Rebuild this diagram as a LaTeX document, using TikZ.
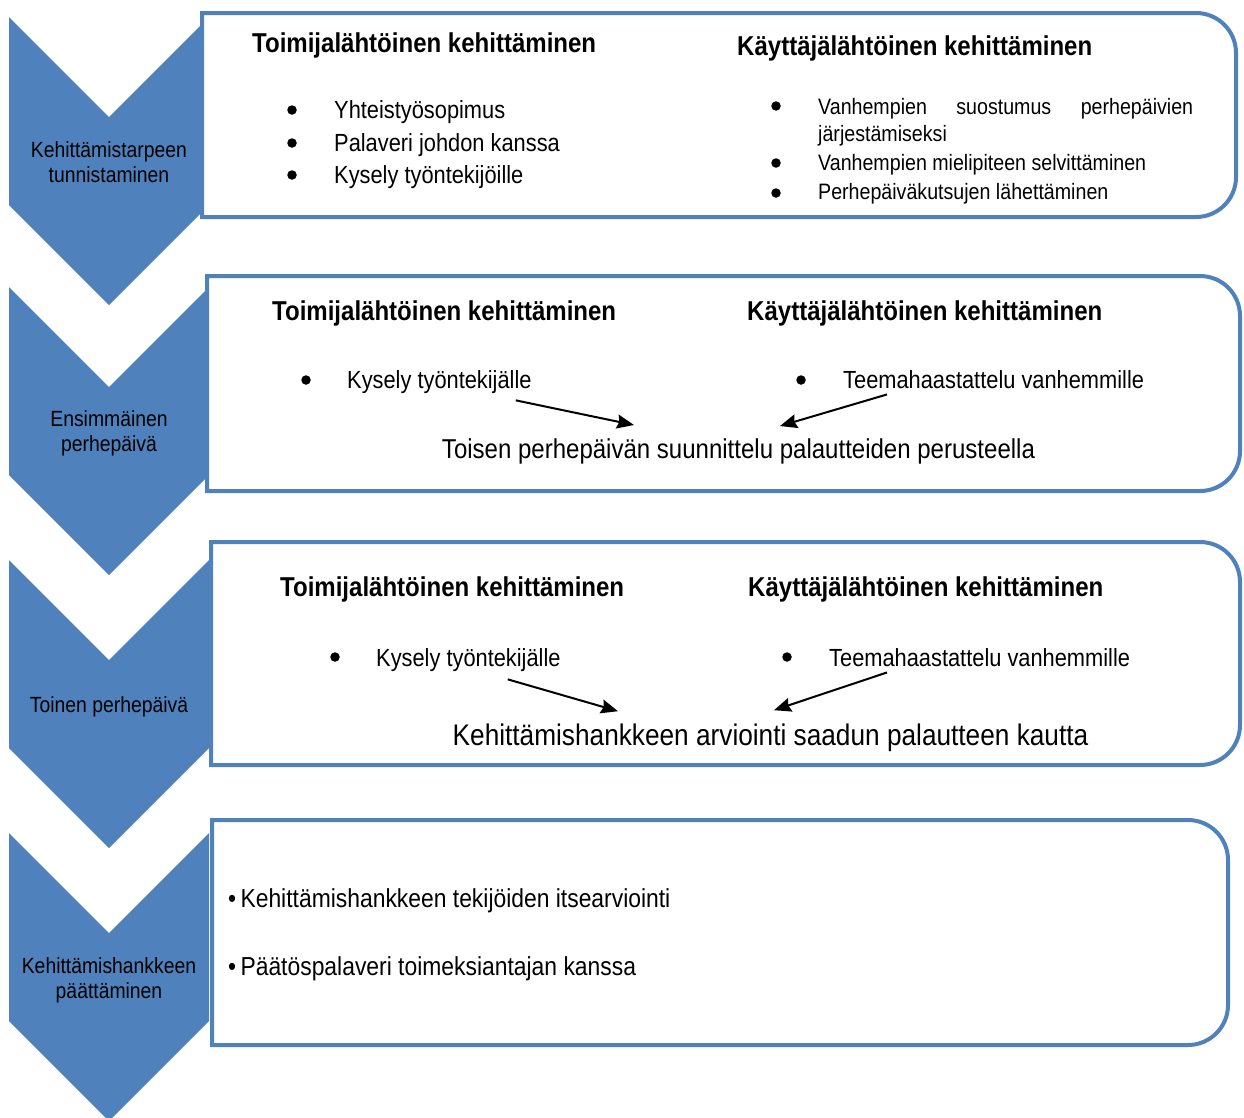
\documentclass[tikz,border=0pt]{standalone}
\usepackage{fontspec}
\setmainfont{Liberation Sans}[FakeStretch=0.88]
\usetikzlibrary{calc}
\usetikzlibrary{arrows.meta}
\definecolor{stepblue}{HTML}{4F81BD}

% box with square left side and rounded right corners
\newcommand\phasebox[4]{%
  \draw[box] (#1,#2) -- (#3-40,#2) arc[start angle=-90,end angle=0,radius=40]
    -- (#3,#4-40) arc[start angle=0,end angle=90,radius=40] -- (#1,#4) -- cycle;}

\begin{document}
\begin{tikzpicture}[x=1pt, y=-1pt,
  chev/.style={fill=stepblue},
  box/.style={draw=stepblue, line width=4pt, fill=white},
  steptext/.style={align=center, inner sep=0pt, font=\fontsize{22}{25}\selectfont},
  head/.style={anchor=base west, inner sep=0pt, font=\fontsize{27.3}{33}\selectfont\bfseries},
  item/.style={anchor=base west, inner sep=0pt, font=\fontsize{24.8}{30}\selectfont},
  smallitem/.style={anchor=base west, inner sep=0pt, font=\fontsize{22.3}{28}\selectfont},
  result/.style={anchor=base, inner sep=0pt, font=\fontsize{27.3}{32}\selectfont},
  dot/.style={circle, fill=black, inner sep=0pt, minimum size=9.5pt},
  arr/.style={-{Stealth[length=17pt,width=14pt,inset=2pt]}, line width=2pt}]
  \useasboundingbox (0,0) rectangle (1244,1117);

  % chevrons
  \foreach \t in {17, 287, 560, 833}
    \fill[chev] (9,\t) -- (109,\t+100) -- (209,\t) -- (209,\t+188)
      -- (109,\t+288) -- (9,\t+188) -- cycle;

  % boxes
  \phasebox{202}{13}{1236}{217}
  \phasebox{207}{276}{1240}{491}
  \phasebox{211}{542}{1240}{765}
  \phasebox{212}{820}{1228}{1045}

  % phase names
  \node[steptext] (s1) at (109,162) {Kehittämistarpeen\\tunnistaminen};
  \node[steptext] (s2) at (109,433) {Ensimmäinen\\perhepäivä};
  \node[steptext] (s3) at (109,707) {Toinen perhepäivä};
  \node[steptext] (s4) at (109,980) {Kehittämishankkeen\\päättäminen};

  % bullets
  \foreach \x/\y [count=\i] in {292/110, 292/143, 292/175, 776/106, 776/163,
      776/193, 306/380, 801/380, 335/657, 787/657}
    \node[dot] (d\i) at (\x,\y) {};

  % first box
  \node[head] (tk1) at (252,52) {Toimijalähtöinen kehittäminen};
  \node[head] (kk1) at (737,55) {Käyttäjälähtöinen kehittäminen};
  \node[item] (yh1) at (334,118) {Yhteistyösopimus};
  \node[item] (pa1) at (334,151) {Palaveri johdon kanssa};
  \node[item] (ky1) at (334,183) {Kysely työntekijöille};
  \node[smallitem] (va1) at (818,114) {\hbox to 375pt{Vanhempien\hfill suostumus\hfill perhepäivien}};
  \node[smallitem] (ja1) at (818,141) {järjestämiseksi};
  \node[smallitem] (mi1) at (818,170) {Vanhempien mielipiteen selvittäminen};
  \node[smallitem] (pe1) at (818,199) {Perhepäiväkutsujen lähettäminen};

  % second box
  \node[head] (tk2) at (272,320) {Toimijalähtöinen kehittäminen};
  \node[head] (kk2) at (747,320) {Käyttäjälähtöinen kehittäminen};
  \node[item] (ky2) at (347,388) {Kysely työntekijälle};
  \node[item] (te2) at (843,388) {Teemahaastattelu vanhemmille};
  \node[result] (su2) at (738.5,458) {Toisen perhepäivän suunnittelu palautteiden perusteella};
  \draw[arr] ($(ky2.south east)+(-16,7)$) -- ($(su2.north)+(-104.5,-13)$);
  \draw[arr] ($(te2.south west)+(44,6)$) -- ($(su2.north)+(41.5,-12)$);

  % third box
  \node[head] (tk3) at (280,596) {Toimijalähtöinen kehittäminen};
  \node[head] (kk3) at (748,596) {Käyttäjälähtöinen kehittäminen};
  \node[item] (ky3) at (376,666) {Kysely työntekijälle};
  \node[item] (te3) at (829,666) {Teemahaastattelu vanhemmille};
  \node[result, font=\fontsize{29.8}{34}\selectfont] (ar3) at (770.5,745)
    {Kehittämishankkeen arviointi saadun palautteen kautta};
  \draw[arr] ($(ky3.south east)+(-53,8)$) -- ($(ar3.north)+(-152.5,-12)$);
  \draw[arr] ($(te3.south west)+(58,6)$) -- ($(ar3.north)+(3.5,-13)$);

  % last box
  \node[item, font=\fontsize{26}{31}\selectfont] (it4) at (228,907)
    {•\,Kehittämishankkeen tekijöiden itsearviointi};
  \node[item, font=\fontsize{26}{31}\selectfont] (pp4) at (228,975)
    {•\,Päätöspalaveri toimeksiantajan kanssa};
\end{tikzpicture}
\end{document}
